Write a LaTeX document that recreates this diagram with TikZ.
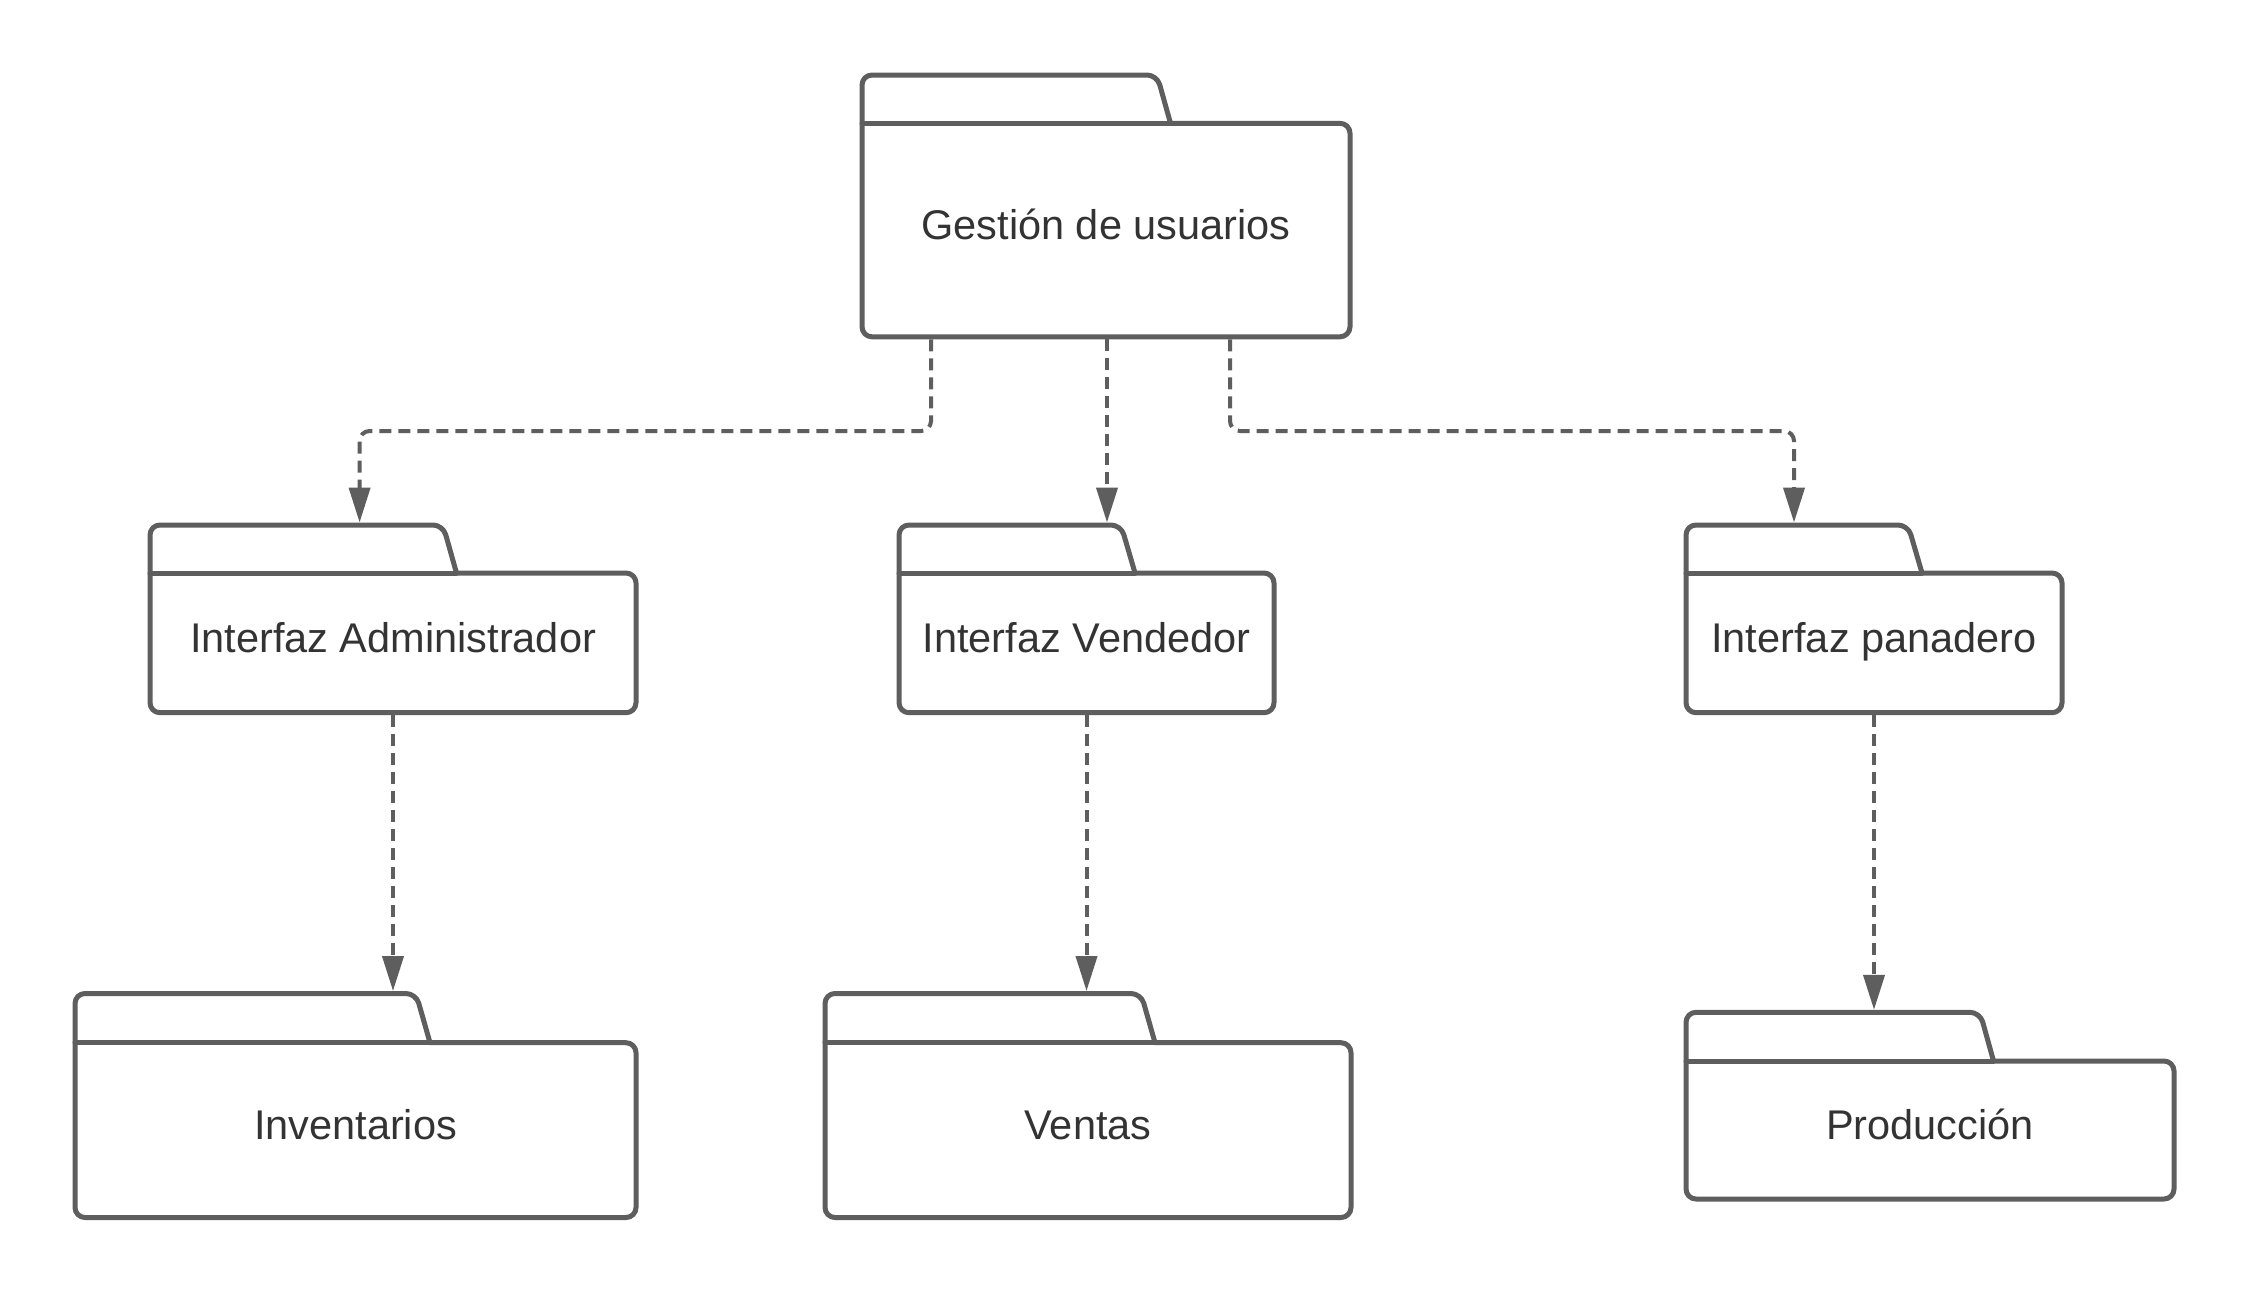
\documentclass[tikz,border=0pt]{standalone}
\usepackage{fontspec}
\setmainfont{Liberation Sans}
\usetikzlibrary{arrows.meta,fit}
\definecolor{lc}{HTML}{5E5E5E}
\definecolor{tc}{HTML}{333333}
\tikzset{
 pkgline/.style={draw=lc, line width=5pt, line cap=round, line join=round},
 pkgarea/.style={inner sep=0pt, outer sep=0pt, draw=none},
 pkglabel/.style={anchor=base, text=tc, font=\fontsize{41.5pt}{50pt}\selectfont, inner sep=0pt},
 dep/.style={draw=lc, line width=4pt, dash pattern=on 12pt off 7pt, rounded corners=10pt,
   -{Triangle[length=35pt,width=21pt]}, shorten <=2.5pt, shorten >=2.5pt}
}
% name, x0, x1, ytab, ybody, ybottom, xtabcorner, xslopeend, text
\newcommand\umlpkg[9]{%
 \draw[pkgline, rounded corners=10pt] (#8,#5) -- (#3,#5) -- (#3,#6) -- (#2,#6) -- (#2,#4) -- (#7,#4) -- (#8,#5);
 \draw[pkgline] (#2,#5) -- (#8,#5);
 \node[pkgarea, fit={(#2,#4) (#3,#6)}] (#1) {};
 \node[pkglabel] (#1-label) at ({(#2+#3)/2}, {(#5+#6)/2+9.5}) {#9};
}
\begin{document}
\begin{tikzpicture}[x=1pt,y=-1pt]
\fill[white] (0,0) rectangle (2250,1294);
\useasboundingbox (0,0) rectangle (2250,1294);

\umlpkg{gest}{862}{1350}{75}{123.3}{336.8}{1157}{1170.5}{Gestión de usuarios}
\umlpkg{admin}{150}{636}{525}{573}{712.7}{443}{456.5}{Interfaz Administrador}
\umlpkg{vend}{899}{1274}{525}{573}{712.7}{1121}{1135}{Interfaz Vendedor}
\umlpkg{pan}{1686}{2062}{525}{573}{712.7}{1908}{1922}{Interfaz panadero}
\umlpkg{inv}{75}{636}{993.5}{1042.7}{1217.5}{416}{430}{Inventarios}
\umlpkg{ventas}{825}{1351}{993.5}{1042.7}{1217.5}{1141}{1155}{Ventas}
\umlpkg{prod}{1686}{2174}{1012.3}{1061}{1199}{1980}{1993.5}{Producción}

\draw[dep] (gest.south -| 931,0) -- (931,431) -- (359.6,431) -- (admin.north -| 359.6,0);
\draw[dep] (gest.south -| 1107,0) -- (vend.north -| 1107,0);
\draw[dep] (gest.south -| 1230,0) -- (1230,431) -- (1794,431) -- (pan.north -| 1794,0);
\draw[dep] (admin.south -| 393,0) -- (inv.north -| 393,0);
\draw[dep] (vend.south -| 1086.5,0) -- (ventas.north -| 1086.5,0);
\draw[dep] (pan.south -| 1874,0) -- (prod.north -| 1874,0);
\end{tikzpicture}
\end{document}
